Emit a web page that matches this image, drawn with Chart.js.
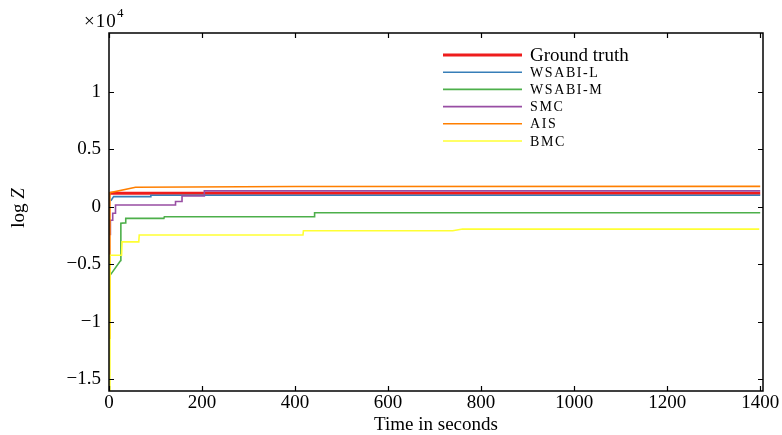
<!DOCTYPE html>
<html>
<head>
<meta charset="utf-8">
<script src="https://cdn.jsdelivr.net/npm/chart.js@4"></script>
<style>
  html, body { margin: 0; padding: 0; background: #fff; }
  #wrap { width: 782px; height: 435px; }
</style>
</head>
<body>
<div id="wrap"><canvas id="c" width="782" height="435"></canvas></div>
<script>
// Values (time in seconds, log Z)
const gtTime = [2, 1400];
const gtLogZ = [1200, 1200];

const wsabiLTime = [4, 10, 89, 90, 1400];
const wsabiLLogZ = [550, 900, 900, 1020, 1020];

const wsabiMTime = [3, 25, 25.5, 35, 36, 118, 119, 441, 442, 1400];
const wsabiMLogZ = [-5900, -4650, -1420, -1380, -990, -990, -850, -850, -500, -500];

const smcTime = [3, 3, 8, 8, 14, 14, 143, 143, 157, 157, 205, 205, 1400];
const smcLogZ = [-2450, -1150, -1150, -550, -550, 175, 175, 480, 480, 960, 960, 1400, 1400];

const aisTime = [1, 2, 57, 400, 1400];
const aisLogZ = [-11400, 1250, 1720, 1780, 1790];

const bmcTime = [1, 2, 27, 28, 64, 65, 417, 418, 739, 760, 1398];
const bmcLogZ = [-17000, -4190, -4190, -3030, -3030, -2440, -2440, -2070, -2070, -1920, -1920];

const seriesNames = ['Ground truth', 'WSABI-L', 'WSABI-M', 'SMC', 'AIS', 'BMC'];
const seriesColors = ['#ee1c1c', '#377eb8', '#4daf4a', '#984ea3', '#ff7f00', '#ffff33'];
const seriesWidths = [3, 1.6, 1.6, 1.6, 1.6, 1.6];

const xTicks = [0, 200, 400, 600, 800, 1000, 1200, 1400];
const yTicks = [-15000, -10000, -5000, 0, 5000, 10000];

const SERIF = "'Liberation Serif', 'Times New Roman', serif";

const allTimes = [gtTime, wsabiLTime, wsabiMTime, smcTime, aisTime, bmcTime];
const allLogZ = [gtLogZ, wsabiLLogZ, wsabiMLogZ, smcLogZ, aisLogZ, bmcLogZ];

function fmtY(v) {
  if (v === 0) return '0';
  return String(v / 1e4).replace('-', '\u2212');
}

// Frame, inward ticks on all four sides, legend and axis texts.
const decorPlugin = {
  id: 'decor',
  afterDraw(chart) {
    const { ctx, chartArea: a, scales: { x, y } } = chart;
    ctx.save();
    ctx.strokeStyle = '#000';
    ctx.lineWidth = 1.2;
    xTicks.forEach((t) => {
      const px = Math.round(x.getPixelForValue(t)) + 0.5;
      ctx.beginPath();
      ctx.moveTo(px, a.bottom); ctx.lineTo(px, a.bottom - 5);
      ctx.moveTo(px, a.top); ctx.lineTo(px, a.top + 5);
      ctx.stroke();
    });
    yTicks.forEach((t) => {
      const py = Math.round(y.getPixelForValue(t)) + 0.5;
      ctx.beginPath();
      ctx.moveTo(a.left, py); ctx.lineTo(a.left + 5, py);
      ctx.moveTo(a.right, py); ctx.lineTo(a.right - 5, py);
      ctx.stroke();
    });
    ctx.lineWidth = 1.5;
    ctx.strokeRect(a.left, a.top, a.right - a.left, a.bottom - a.top);

    // Legend
    const lx0 = 443, lx1 = 522, tx = 530;
    let ly = 55;
    seriesNames.forEach((name, i) => {
      ctx.strokeStyle = seriesColors[i];
      ctx.lineWidth = seriesWidths[i];
      ctx.beginPath();
      ctx.moveTo(lx0, ly); ctx.lineTo(lx1, ly);
      ctx.stroke();
      ctx.fillStyle = '#000';
      ctx.textBaseline = 'middle';
      ctx.textAlign = 'left';
      if (i === 0) {
        ctx.font = `19px ${SERIF}`;
        ctx.letterSpacing = '0px';
      } else {
        ctx.font = `14px ${SERIF}`;
        ctx.letterSpacing = '1.6px';
      }
      ctx.fillText(name, tx, ly + 1);
      ly += 17.2;
    });
    ctx.letterSpacing = '0px';

    // x-axis title
    ctx.font = `19px ${SERIF}`;
    ctx.textAlign = 'center';
    ctx.textBaseline = 'middle';
    ctx.fillText('Time in seconds', (a.left + a.right) / 2, 425);

    // y-axis title: log Z
    ctx.save();
    ctx.translate(19, 208);
    ctx.rotate(-Math.PI / 2);
    ctx.font = `19px ${SERIF}`;
    const w1 = ctx.measureText('log ').width;
    ctx.font = `italic 19px ${SERIF}`;
    const w2 = ctx.measureText('Z').width;
    ctx.textAlign = 'left';
    ctx.font = `19px ${SERIF}`;
    ctx.fillText('log ', -(w1 + w2) / 2, 0);
    ctx.font = `italic 19px ${SERIF}`;
    ctx.fillText('Z', -(w1 + w2) / 2 + w1, 0);
    ctx.restore();

    // multiplier
    ctx.textAlign = 'left';
    ctx.font = `19px ${SERIF}`;
    ctx.letterSpacing = '1px';
    ctx.fillText('\u00d710', 84, 22);
    ctx.letterSpacing = '0px';
    ctx.font = `13px ${SERIF}`;
    ctx.fillText('4', 117, 14);
    ctx.restore();
  },
};

const datasets = seriesNames.map((name, i) => ({
  label: name,
  data: allTimes[i].map((t, k) => ({ x: t, y: allLogZ[i][k] })),
  borderColor: seriesColors[i],
  borderWidth: seriesWidths[i],
  pointRadius: 0,
  fill: false,
  tension: 0,
  order: seriesNames.length - i,
}));

new Chart(document.getElementById('c'), {
  type: 'line',
  data: { datasets },
  options: {
    responsive: false,
    animation: false,
    layout: { padding: { left: 0, right: 19, top: 33, bottom: 0 } },
    plugins: { legend: { display: false }, tooltip: { enabled: false } },
    scales: {
      x: {
        type: 'linear',
        min: 0,
        max: 1406,
        afterBuildTicks: (s) => { s.ticks = xTicks.map((v) => ({ value: v })); },
        afterFit: (s) => { s.height = 44; },
        ticks: {
          color: '#000',
          font: { family: SERIF, size: 19 },
          padding: 1,
          maxRotation: 0,
          autoSkip: false,
          callback: (v) => String(v),
        },
        grid: { display: false, drawTicks: false },
        border: { display: false },
      },
      y: {
        type: 'linear',
        min: -16000,
        max: 15130,
        afterBuildTicks: (s) => { s.ticks = yTicks.map((v) => ({ value: v })); },
        afterFit: (s) => { s.width = 109; },
        ticks: {
          color: '#000',
          font: { family: SERIF, size: 19 },
          padding: 8,
          callback: (v) => fmtY(v),
          autoSkip: false,
        },
        grid: { display: false, drawTicks: false },
        border: { display: false },
      },
    },
  },
  plugins: [decorPlugin],
});
</script>
</body>
</html>
